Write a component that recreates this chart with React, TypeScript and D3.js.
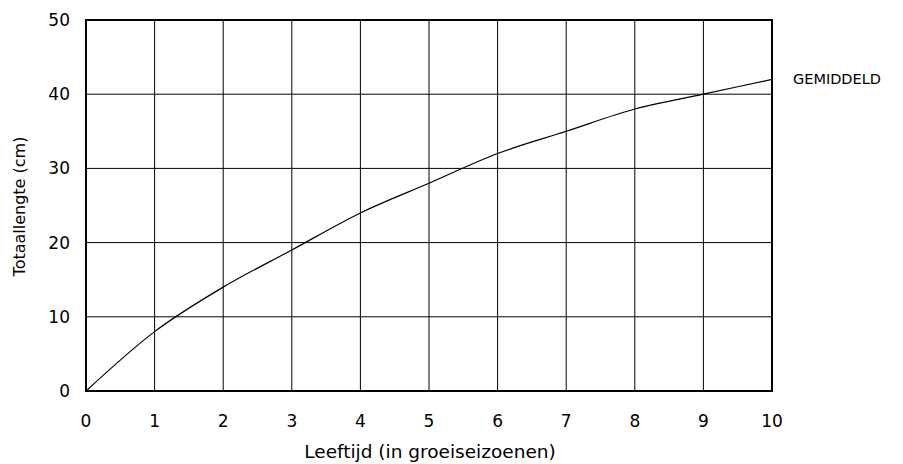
import * as d3 from "d3";

const ages = [0, 1, 2, 3, 4, 5, 6, 7, 8, 9, 10];
const lengths = [0, 8, 14, 19, 24, 28, 32, 35, 38, 40, 42];
const xTicks = [0, 1, 2, 3, 4, 5, 6, 7, 8, 9, 10];
const yTicks = [0, 10, 20, 30, 40, 50];
const seriesLabel = "GEMIDDELD";

const W = 903;
const H = 464;
const margin = { top: 20, right: 131, bottom: 73, left: 86 };

export default function App() {
  const innerW = W - margin.left - margin.right;
  const innerH = H - margin.top - margin.bottom;
  const x = d3.scaleLinear().domain([0, 10]).range([0, innerW]);
  const y = d3.scaleLinear().domain([0, 50]).range([innerH, 0]);
  const line = d3
    .line<number>()
    .x((_, i) => x(ages[i]))
    .y((d) => y(d))
    .curve(d3.curveMonotoneX);
  const font = "Verdana, 'DejaVu Sans', sans-serif";

  return (
    <svg
      width={W}
      height={H}
      style={{ position: "absolute", left: 0, top: 0, background: "#fff" }}
      fontFamily={font}
    >
      <g transform={`translate(${margin.left},${margin.top})`}>
        {xTicks.map((t) => (
          <line key={"gx" + t} x1={x(t)} x2={x(t)} y1={0} y2={innerH} stroke="#000" strokeWidth={1} />
        ))}
        {yTicks.map((t) => (
          <line key={"gy" + t} x1={0} x2={innerW} y1={y(t)} y2={y(t)} stroke="#000" strokeWidth={1} />
        ))}
        <rect x={0} y={0} width={innerW} height={innerH} fill="none" stroke="#000" strokeWidth={2} />
        <path d={line(lengths) ?? ""} fill="none" stroke="#000" strokeWidth={1.2} />
        {xTicks.map((t) => (
          <text key={"tx" + t} x={x(t)} y={innerH + 36} textAnchor="middle" fontSize={17} fill="#000">
            {t}
          </text>
        ))}
        {yTicks.map((t) => (
          <text key={"ty" + t} x={-16} y={y(t) + 6} textAnchor="end" fontSize={17} fill="#000">
            {t}
          </text>
        ))}
        <text x={innerW + 21} y={y(lengths[lengths.length - 1]) + 5} fontSize={14.5} fill="#000">
          {seriesLabel}
        </text>
        <text x={innerW / 2 + 1} y={innerH + 67} textAnchor="middle" fontSize={18.5} fill="#000">
          Leeftijd (in groeiseizoenen)
        </text>
        <text
          transform={`translate(${-61},${innerH / 2 + 1}) rotate(-90)`}
          textAnchor="middle"
          fontSize={16}
          fill="#000"
        >
          Totaallengte (cm)
        </text>
      </g>
    </svg>
  );
}
